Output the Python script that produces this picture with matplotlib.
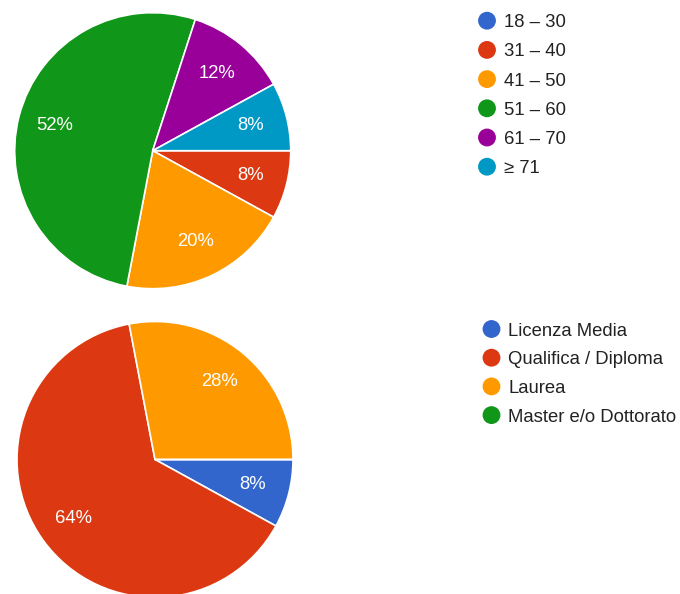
import matplotlib.pyplot as plt

plt.rcParams['font.family'] = ['Liberation Sans', 'DejaVu Sans']

colors = ['#3366cc', '#dc3912', '#ff9900', '#109618', '#990099', '#0099c6']

age_labels = ['18 – 30', '31 – 40', '41 – 50', '51 – 60', '61 – 70', '≥ 71']
age_values = [0, 8, 20, 52, 12, 8]

edu_labels = ['Licenza Media', 'Qualifica / Diploma', 'Laurea', 'Master e/o Dottorato']
edu_values = [8, 64, 28, 0]

W, H = 680, 594
fig = plt.figure(figsize=(W / 100, H / 100), dpi=100)
ax = fig.add_axes([0, 0, 1, 1])
ax.set_xlim(0, W)
ax.set_ylim(0, H)
ax.set_aspect('equal')
ax.axis('off')


def pct(p):
    return f'{p:.0f}%' if p >= 1 else ''


def draw_pie(values, center, radius):
    ax.pie(values, colors=colors[:len(values)], startangle=0, counterclock=False,
           center=center, radius=radius, autopct=pct, pctdistance=0.73,
           wedgeprops=dict(edgecolor='white', linewidth=1.2),
           textprops=dict(color='white', fontsize=13.3), frame=True)
    ax.set_xlim(0, W)
    ax.set_ylim(0, H)
    ax.axis('off')


def draw_legend(labels, x, y0, step):
    for i, lab in enumerate(labels):
        y = y0 - i * step
        ax.scatter([x], [y], s=165, color=colors[i], edgecolor='none', zorder=3)
        ax.text(x + 17, y, lab, fontsize=13.3, color='#222222',
                va='center_baseline', ha='left')


draw_pie(age_values, (152.7, H - 150.7), 138)
draw_pie(edu_values, (155, H - 459.5), 138)

draw_legend(age_labels, 487, H - 20.7, 29.2)
draw_legend(edu_labels, 491.5, H - 329, 28.7)

fig.savefig('out.png', dpi=100)
